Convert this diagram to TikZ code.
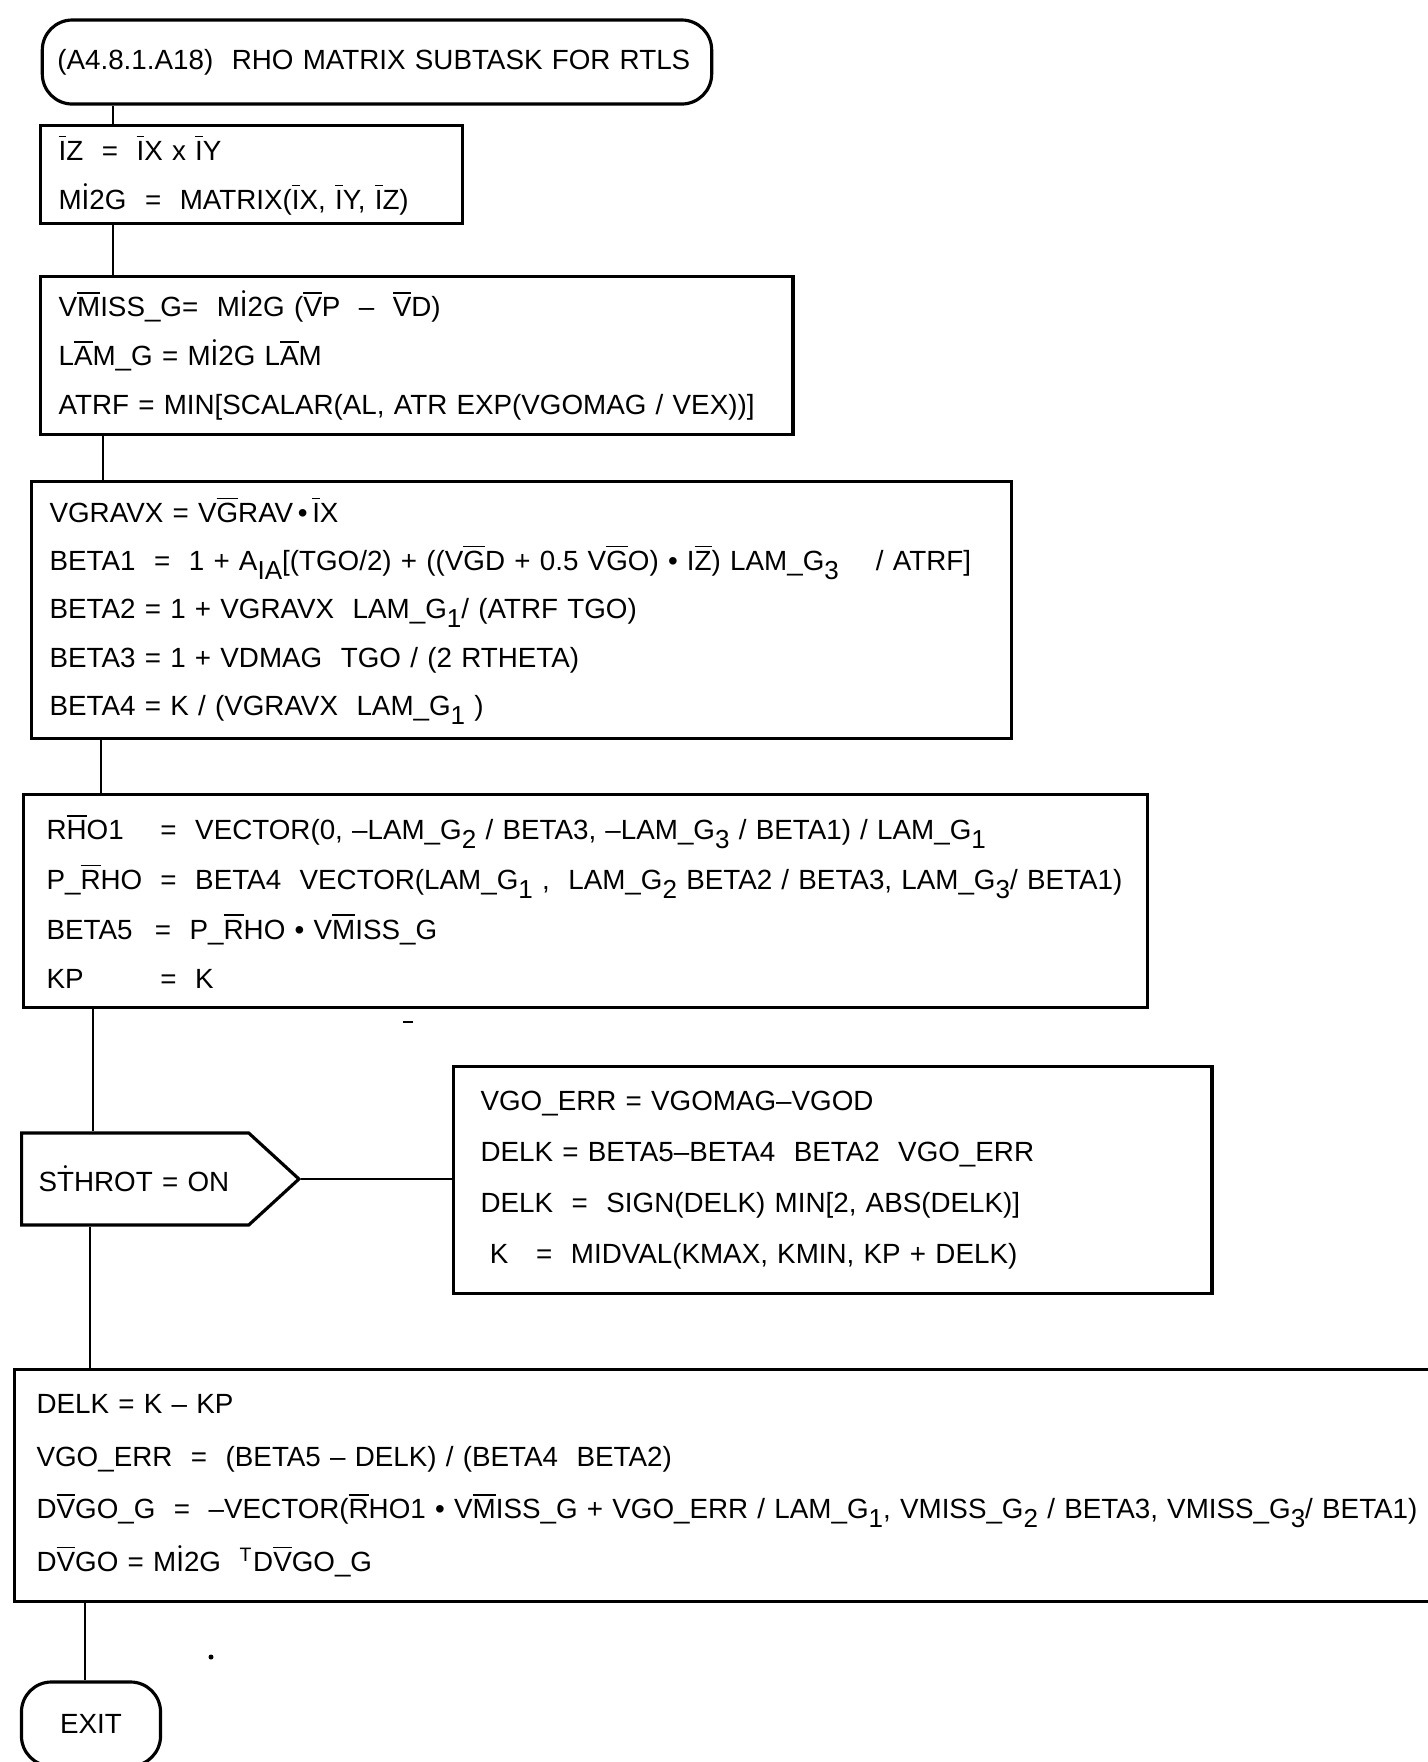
\documentclass[tikz,border=0pt]{standalone}
\usepackage{fontspec}
\setmainfont{Liberation Sans}
\usetikzlibrary{shapes.symbols}
\newcommand{\vb}[1]{\ensuremath{\overline{\mbox{#1}}}}
\newcommand{\dt}[1]{\ensuremath{\dot{\mbox{#1}}}}
\newcommand{\lo}[1]{\raisebox{-0.6ex}{\fontsize{7.4}{7.4}\selectfont #1}}
\newcommand{\eqs}{\ \ =\ \ }
\tikzset{
  stepbox/.style={draw, line width=0.9pt, anchor=north west, align=left,
                  inner xsep=0.18cm, inner ysep=0pt,
                  font=\fontsize{7.9}{13.9}\selectfont},
  term/.style={draw, line width=0.9pt, rounded corners=0.3cm,
               font=\fontsize{7.9}{10}\selectfont},
  decide/.style={draw, line width=0.9pt, signal, signal to=east,
                 signal pointer angle=85, align=left, inner xsep=0.17cm,
                 font=\fontsize{7.9}{10}\selectfont},
  link/.style={line width=0.7pt},
}
\begin{document}
\begin{tikzpicture}[x=0.01cm, y=-0.01cm]
                \useasboundingbox (0,0) rectangle (1428,1762);
                % Start terminal
                \node[term, minimum width=6.69cm, minimum height=0.84cm, text width=6.39cm, inner xsep=0.15cm, align=left] (title) at (377,62) {(A4.8.1.A18)\ \ RHO MATRIX SUBTASK FOR RTLS};

                % Process boxes
                \node[stepbox, minimum width=4.22cm, minimum height=0.98cm, text width=3.86cm] (b1) at (39,124)
                  {\mbox{\vb{I}Z\eqs\vb{I}X x \vb{I}Y}\\
                   \mbox{M\dt{I}2G\eqs MATRIX(\vb{I}X, \vb{I}Y, \vb{I}Z)}};
                \node[stepbox, minimum width=7.52cm, minimum height=1.58cm, text width=7.16cm, inner xsep=0.15cm] (b2) at (39,275)
                  {\mbox{V\vb{M}ISS\_G=\ \ M\dt{I}2G (\vb{V}P\ \ –\ \ \vb{V}D)}\\
                   \mbox{L\vb{A}M\_G = M\dt{I}2G L\vb{A}M}\\
                   \mbox{ATRF = MIN[SCALAR(AL, ATR EXP(VGOMAG / VEX))]}};
                \node[stepbox, minimum width=9.79cm, minimum height=2.57cm, text width=9.43cm, font=\fontsize{7.9}{13.7}\selectfont] (b3) at (30,480)
                  {\mbox{VGRAVX = V\vb{G}RAV\,\textbullet\,\vb{I}X}\\
                   \mbox{BETA1\eqs 1 + A\lo{IA}[(TGO/2) + ((V\vb{G}D + 0.5 V\vb{G}O) \textbullet\ I\vb{Z}) LAM\_G\lo{3}\ \ \ \ / ATRF]}\\
                   \mbox{BETA2 = 1 + VGRAVX\ \ LAM\_G\lo{1}/ (ATRF TGO)}\\
                   \mbox{BETA3 = 1 + VDMAG\ \ TGO / (2 RTHETA)}\\
                   \mbox{BETA4 = K / (VGRAVX\ \ LAM\_G\lo{1} )}};
                \node[stepbox, minimum width=11.23cm, minimum height=2.13cm, text width=10.77cm, inner xsep=0.23cm, font=\fontsize{7.9}{14.1}\selectfont] (b4) at (22,793)
                  {\mbox{\makebox[4.1em][l]{R\vb{H}O1}=\ \ VECTOR(0, –LAM\_G\lo{2} / BETA3, –LAM\_G\lo{3} / BETA1) / LAM\_G\lo{1}}\\
                   \mbox{\makebox[4.1em][l]{P\_\vb{R}HO}=\ \ BETA4\ \ VECTOR(LAM\_G\lo{1} ,\ \ LAM\_G\lo{2} BETA2 / BETA3, LAM\_G\lo{3}/ BETA1)}\\
                   \mbox{\makebox[3.9em][l]{BETA5}=\ \ P\_\vb{R}HO \textbullet\ V\vb{M}ISS\_G}\\
                   \mbox{\makebox[4.1em][l]{KP}=\ \ K}};

                % Decision and its branch
                \node[decide, text width=1.93cm, minimum height=0.92cm, anchor=west] (dec) at (20,1179) {\mbox{S\dt{T}HROT\ =\ ON}};
                \node[stepbox, minimum width=7.58cm, minimum height=2.27cm, text width=7.04cm, inner xsep=0.27cm, font=\fontsize{7.9}{14.5}\selectfont] (b5) at (452,1065)
                  {\mbox{VGO\_ERR = VGOMAG–VGOD}\\
                   \mbox{DELK = BETA5–BETA4\ \ BETA2\ \ VGO\_ERR}\\
                   \mbox{DELK\eqs SIGN(DELK) MIN[2, ABS(DELK)]}\\
                   \mbox{\ K\ \ \ =\ \ MIDVAL(KMAX, KMIN, KP + DELK)}};

                \node[stepbox, minimum width=14.22cm, minimum height=2.32cm, text width=13.78cm, inner xsep=0.22cm, font=\fontsize{7.9}{15}\selectfont] (b6) at (13,1368)
                  {\mbox{DELK\ =\ K – KP}\\
                   \mbox{VGO\_ERR\eqs(BETA5 – DELK) / (BETA4\ \ BETA2)}\\
                   \mbox{D\vb{V}GO\_G\eqs–VECTOR(\vb{R}HO1 \textbullet\ V\vb{M}ISS\_G + VGO\_ERR / LAM\_G\lo{1}, VMISS\_G\lo{2} / BETA3, VMISS\_G\lo{3}/ BETA1)}\\
                   \mbox{D\vb{V}GO = M\dt{I}2G\ \ \textsuperscript{T}D\vb{V}GO\_G}};

                % End terminal
                \node[term, minimum width=1.39cm, minimum height=0.84cm] (exit) at (91,1724) {EXIT};

                % Connectors
                \draw[link] (title.south -| 113,0) -- (b1.north -| 113,0);
                \draw[link] (b1.south -| 113,0) -- (b2.north -| 113,0);
                \draw[link] (b2.south -| 103,0) -- (b3.north -| 103,0);
                \draw[link] (b3.south -| 101,0) -- (b4.north -| 101,0);
                \draw[link] (b4.south -| 93,0) -- (dec.north -| 93,0);
                \draw[link] (dec.east) -- (dec.east -| b5.west);
                \draw[link] (dec.south -| 90,0) -- (b6.north -| 90,0);
                \draw[link] (b6.south -| 85,0) -- (exit.north -| 85,0);

                % Specks
                \fill (211,1657) circle (2.5);
                \draw[line width=0.6pt] (403,1022) -- (413,1022);
            \end{tikzpicture}
\end{document}
